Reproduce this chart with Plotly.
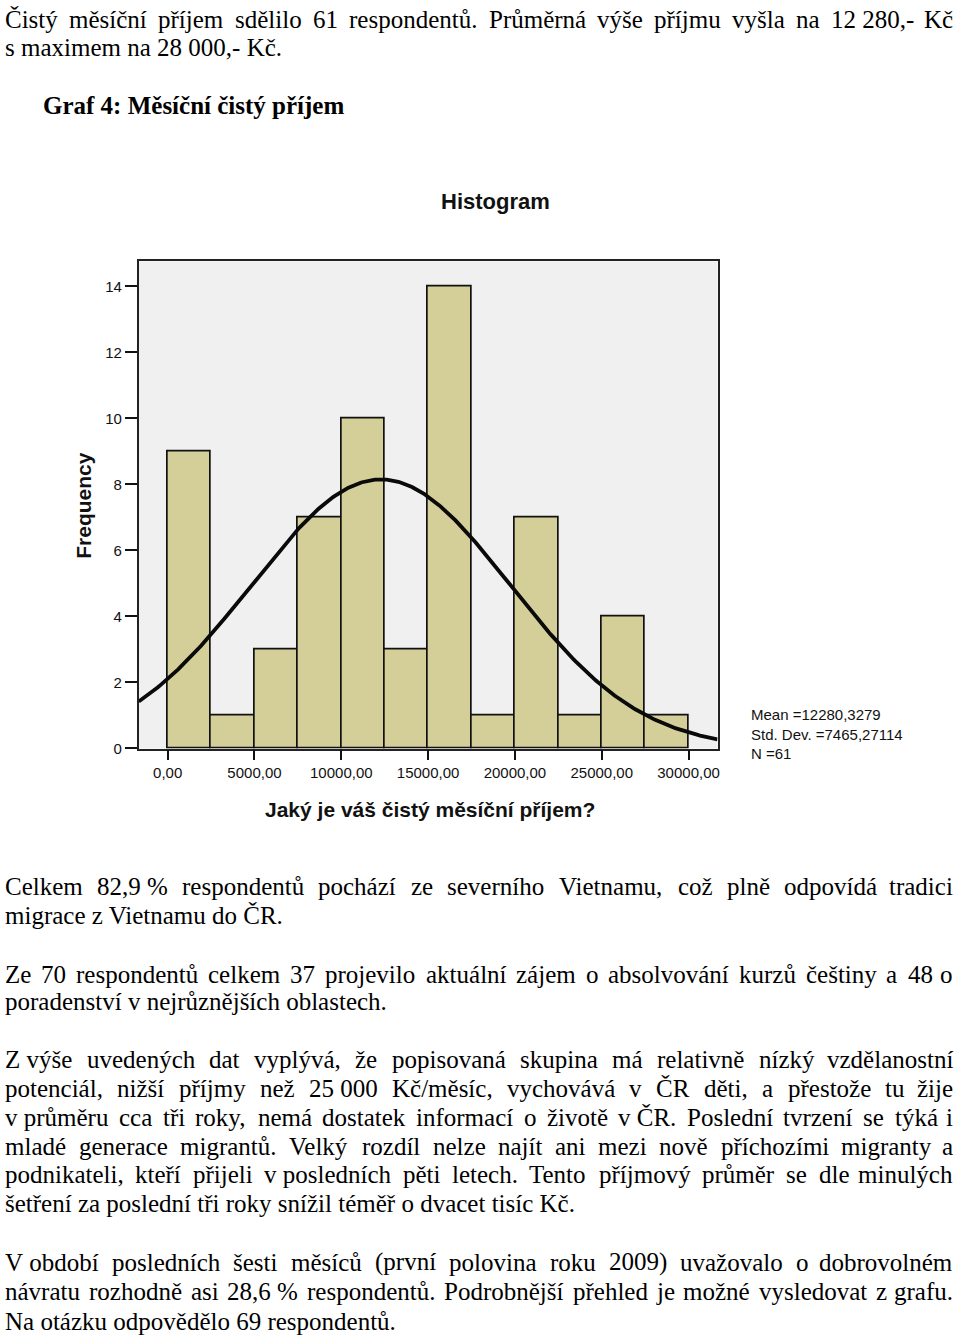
import numpy as np
import plotly.graph_objects as go
import unicodedata

# ---------------- data ----------------
bin_starts = [0, 2500, 5000, 7500, 10000, 12500, 15000, 17500, 20000, 22500, 25000, 27500]
bin_width = 2500
frequencies = [9, 1, 3, 7, 10, 3, 14, 1, 7, 1, 4, 1]
x_tick_vals = [0, 5000, 10000, 15000, 20000, 25000, 30000]
x_tick_text = ["0,00", "5000,00", "10000,00", "15000,00", "20000,00", "25000,00", "30000,00"]
y_tick_vals = [0, 2, 4, 6, 8, 10, 12, 14]
mean_val = 12280.3279
std_val = 7465.27114
n_val = 61
stats_lines = ["Mean =12280,3279", "Std. Dev. =7465,27114", "N =61"]

chart_title = "Histogram"
x_title = "Jaký je váš čistý měsíční příjem?"
y_title = "Frequency"

NB = "\u00a0"
# (text, justified, y pixel)
text_lines = [
    ("Čistý měsíční příjem sdělilo 61 respondentů. Průměrná výše příjmu vyšla na 12" + NB + "280,- Kč", True, 20),
    ("s maximem na 28" + NB + "000,- Kč.", False, 48),
    ("Celkem 82,9" + NB + "% respondentů pochází ze severního Vietnamu, což plně odpovídá tradici", True, 892),
    ("migrace z Vietnamu do ČR.", False, 921),
    ("Ze 70 respondentů celkem 37 projevilo aktuální zájem o absolvování kurzů češtiny a 48 o", True, 980),
    ("poradenství v nejrůznějších oblastech.", False, 1008),
    ("Z" + NB + "výše uvedených dat vyplývá, že popisovaná skupina má relativně nízký vzdělanostní", True, 1066),
    ("potenciál, nižší příjmy než 25" + NB + "000 Kč/měsíc, vychovává v ČR děti, a přestože tu žije", True, 1095),
    ("v" + NB + "průměru cca tři roky, nemá dostatek informací o životě v" + NB + "ČR. Poslední tvrzení se týká i", True, 1124),
    ("mladé generace migrantů. Velký rozdíl nelze najít ani mezi nově příchozími migranty a", True, 1153),
    ("podnikateli, kteří přijeli v" + NB + "posledních pěti letech. Tento příjmový průměr se dle minulých", True, 1182),
    ("šetření za poslední tři roky snížil téměř o dvacet tisíc Kč.", False, 1211),
    ("V" + NB + "období posledních šesti měsíců (první polovina roku 2009) uvažovalo o dobrovolném", True, 1270),
    ("návratu rozhodně asi 28,6" + NB + "% respondentů. Podrobnější přehled je možné vysledovat z grafu.", True, 1299),
    ("Na otázku odpovědělo 69 respondentů.", False, 1329),
]
heading = "Graf 4: Měsíční čistý příjem"

# ---------------- layout constants ----------------
W, H = 960, 1339
PX_L, PX_R, PX_T, PX_B = 139, 719, 263, 753
BODY_SIZE = 25
SERIF = "Liberation Serif, Times New Roman, serif"
SANS = "Liberation Sans, Arial, sans-serif"

TIMES = {' ': 250, '\u00a0': 250, '!': 333, '%': 833, '(': 333, ')': 333, ',': 250, '-': 333, '.': 250, '/': 278,
         ':': 278, '?': 444, 'A': 722, 'B': 667, 'C': 667, 'D': 722, 'E': 611, 'F': 556, 'G': 722, 'H': 722,
         'I': 333, 'J': 389, 'K': 722, 'L': 611, 'M': 889, 'N': 722, 'O': 722, 'P': 556, 'Q': 722, 'R': 667,
         'S': 556, 'T': 611, 'U': 722, 'V': 722, 'W': 944, 'X': 722, 'Y': 722, 'Z': 611, 'a': 444, 'b': 500,
         'c': 444, 'd': 500, 'e': 444, 'f': 333, 'g': 500, 'h': 500, 'i': 278, 'j': 278, 'k': 500, 'l': 278,
         'm': 778, 'n': 500, 'o': 500, 'p': 500, 'q': 500, 'r': 333, 's': 389, 't': 278, 'u': 500, 'v': 500,
         'w': 722, 'x': 500, 'y': 500, 'z': 444}


def text_width(s, size):
    tot = 0
    for ch in s:
        if ch.isdigit():
            tot += 500
            continue
        base = unicodedata.normalize('NFD', ch)[0]
        tot += TIMES.get(ch, TIMES.get(base, 500))
    return tot * size / 1000.0


def px_x(p):
    return p / W


def px_y(p):
    return 1 - p / H


annotations = []
left_px, right_px = 4, 956
for txt, just, ypx in text_lines:
    if not just:
        annotations.append(dict(text=txt, x=px_x(left_px), y=px_y(ypx), xref="paper", yref="paper",
                                xanchor="left", yanchor="middle", showarrow=False, borderpad=0,
                                font=dict(family=SERIF, size=BODY_SIZE, color="black")))
        continue
    words = [w for w in txt.split(" ") if w]
    widths = [text_width(w, BODY_SIZE) for w in words]
    gap = (right_px - left_px - sum(widths)) / (len(words) - 1)
    xpos = left_px
    for i, (w, wd) in enumerate(zip(words, widths)):
        if i == len(words) - 1:
            annotations.append(dict(text=w, x=px_x(right_px), y=px_y(ypx), xref="paper", yref="paper",
                                    xanchor="right", yanchor="middle", showarrow=False, borderpad=0,
                                    font=dict(family=SERIF, size=BODY_SIZE, color="black")))
        else:
            annotations.append(dict(text=w, x=px_x(xpos), y=px_y(ypx), xref="paper", yref="paper",
                                    xanchor="left", yanchor="middle", showarrow=False, borderpad=0,
                                    font=dict(family=SERIF, size=BODY_SIZE, color="black")))
        xpos += wd + gap

annotations.append(dict(text="<b>" + heading + "</b>", x=px_x(42), y=px_y(106), xref="paper", yref="paper",
                        xanchor="left", yanchor="middle", showarrow=False, borderpad=0,
                        font=dict(family=SERIF, size=BODY_SIZE, color="black")))

annotations.append(dict(text="<b>" + chart_title + "</b>", x=px_x(497), y=px_y(203), xref="paper", yref="paper",
                        xanchor="center", yanchor="middle", showarrow=False,
                        font=dict(family=SANS, size=22, color="#111")))
annotations.append(dict(text="<b>" + x_title + "</b>", x=px_x(431), y=px_y(814), xref="paper", yref="paper",
                        xanchor="center", yanchor="middle", showarrow=False,
                        font=dict(family=SANS, size=21, color="#111")))
annotations.append(dict(text="<b>" + y_title + "</b>", x=px_x(84), y=px_y(508), xref="paper", yref="paper",
                        xanchor="center", yanchor="middle", showarrow=False, textangle=-90,
                        font=dict(family=SANS, size=21, color="#111")))
for i, s in enumerate(stats_lines):
    annotations.append(dict(text=s, x=px_x(752), y=px_y(719 + i * 19.5), xref="paper", yref="paper",
                            xanchor="left", yanchor="middle", showarrow=False, borderpad=0,
                            font=dict(family=SANS, size=15, color="#111")))

# ---------------- traces ----------------
bar_centers = [b + bin_width / 2 for b in bin_starts]
x_min = (PX_L - 168) / 87 * 5000
x_max = (PX_R - 168) / 87 * 5000
y_max = (PX_B - PX_T) / ((753 - 288) / 14)

xc = np.linspace(x_min, x_max, 400)
yc = n_val * bin_width / (std_val * np.sqrt(2 * np.pi)) * np.exp(-0.5 * ((xc - mean_val) / std_val) ** 2)

fig = go.Figure()
fig.add_trace(go.Bar(x=bar_centers, y=frequencies, width=bin_width,
                     marker=dict(color="#d4cf98", line=dict(color="#111", width=1.7)),
                     showlegend=False, hoverinfo="skip"))
fig.add_trace(go.Scatter(x=xc, y=yc, mode="lines", line=dict(color="#0a0a0a", width=3.8),
                         showlegend=False, hoverinfo="skip"))

fig.update_layout(
    width=W, height=H,
    margin=dict(l=0, r=0, t=0, b=0),
    paper_bgcolor="white",
    plot_bgcolor="#f0f0f0",
    bargap=0,
    annotations=annotations,
    xaxis=dict(domain=[PX_L / W, PX_R / W], range=[x_min, x_max], tickvals=x_tick_vals, ticktext=x_tick_text,
               ticks="outside", ticklen=10, tickwidth=2, tickcolor="#111",
               showline=True, linecolor="#222", linewidth=1.5, mirror=True,
               showgrid=False, zeroline=False,
               tickfont=dict(family=SANS, size=15, color="#111")),
    yaxis=dict(domain=[1 - PX_B / H, 1 - PX_T / H], range=[0, y_max], tickvals=y_tick_vals,
               ticks="outside", ticklen=12, tickwidth=2, tickcolor="#111",
               showline=True, linecolor="#222", linewidth=1.5, mirror=True,
               showgrid=False, zeroline=False,
               tickfont=dict(family=SANS, size=15, color="#111")),
)

post = """
var de=document.documentElement, b=document.body;
[de,b].forEach(function(e){e.style.margin='0';e.style.padding='0';e.style.height='1339px';e.style.overflow='hidden';});
"""
fig.write_html("out.html", config={"displayModeBar": False}, post_script=post)
